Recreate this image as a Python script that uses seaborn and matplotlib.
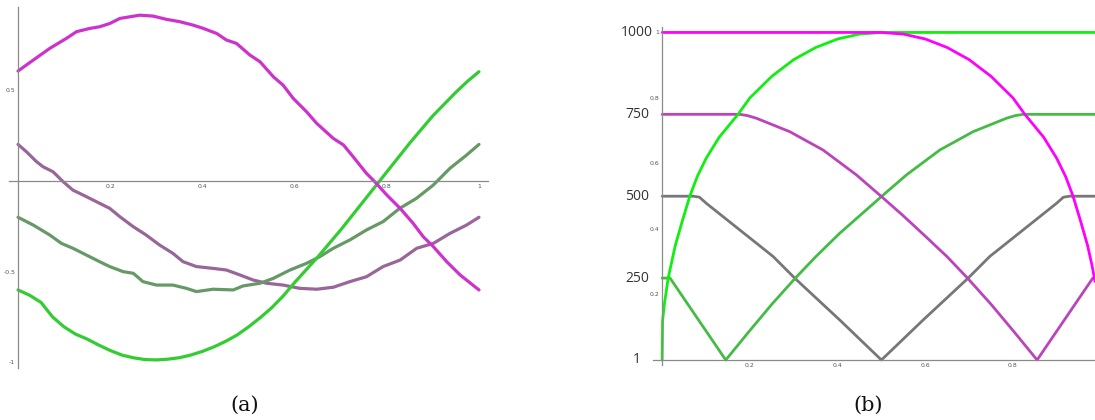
import numpy as np
import pandas as pd
import matplotlib
matplotlib.use('Agg')
import matplotlib.pyplot as plt
import matplotlib.transforms as mtransforms
import seaborn as sns

# ---- panel (a): four wobbly curves
magenta_ax = [0.0, 0.033, 0.069, 0.105, 0.127, 0.156, 0.177, 0.199, 0.221, 0.264, 0.293,
              0.322, 0.351, 0.380, 0.402, 0.431, 0.452, 0.474, 0.503, 0.525, 0.554, 0.575,
              0.597, 0.626, 0.648, 0.684, 0.706, 0.727, 0.756, 0.774, 0.800, 0.829, 0.857,
              0.879, 0.901, 0.930, 0.959, 1.0]
magenta_ay = [0.607, 0.667, 0.732, 0.787, 0.824, 0.842, 0.851, 0.869, 0.897, 0.915, 0.910,
              0.892, 0.879, 0.860, 0.842, 0.814, 0.778, 0.759, 0.695, 0.658, 0.575, 0.529,
              0.456, 0.382, 0.318, 0.235, 0.199, 0.134, 0.042, -0.004, -0.077, -0.151, -0.233,
              -0.307, -0.362, -0.445, -0.518, -0.601]
green_ax = [0.0, 0.025, 0.05, 0.075, 0.1, 0.125, 0.15, 0.175, 0.2, 0.225, 0.25, 0.275, 0.3,
            0.325, 0.35, 0.375, 0.4, 0.425, 0.45, 0.475, 0.5, 0.525, 0.55, 0.575, 0.6, 0.625,
            0.65, 0.675, 0.7, 0.725, 0.75, 0.775, 0.8, 0.825, 0.85, 0.875, 0.9, 0.925, 0.95,
            0.975, 1.0]
green_ay = [-0.601, -0.63, -0.67, -0.75, -0.805, -0.845, -0.872, -0.905, -0.935, -0.96, -0.975,
            -0.985, -0.987, -0.983, -0.975, -0.96, -0.94, -0.915, -0.885, -0.85, -0.805, -0.755,
            -0.70, -0.635, -0.56, -0.49, -0.42, -0.345, -0.27, -0.19, -0.11, -0.03, 0.05, 0.13,
            0.21, 0.285, 0.36, 0.425, 0.49, 0.55, 0.603]
purple_ax = [0.0, 0.018, 0.040, 0.054, 0.076, 0.098, 0.119, 0.148, 0.177, 0.199, 0.221, 0.250,
             0.278, 0.307, 0.336, 0.358, 0.387, 0.423, 0.452, 0.481, 0.510, 0.539, 0.575, 0.611,
             0.648, 0.684, 0.720, 0.756, 0.792, 0.829, 0.865, 0.901, 0.937, 0.973, 1.0]
purple_ay = [0.202, 0.162, 0.107, 0.079, 0.051, -0.004, -0.050, -0.086, -0.123, -0.151, -0.197,
             -0.252, -0.298, -0.353, -0.399, -0.445, -0.472, -0.482, -0.491, -0.518, -0.546,
             -0.564, -0.574, -0.592, -0.597, -0.586, -0.555, -0.528, -0.472, -0.436, -0.371,
             -0.344, -0.289, -0.243, -0.200]
dkgreen_ax = [0.0, 0.033, 0.069, 0.094, 0.119, 0.148, 0.177, 0.199, 0.228, 0.250, 0.271, 0.300,
              0.336, 0.365, 0.387, 0.423, 0.467, 0.488, 0.525, 0.554, 0.590, 0.626, 0.655, 0.684,
              0.720, 0.756, 0.792, 0.828, 0.864, 0.901, 0.937, 0.973, 1.0]
dkgreen_ay = [-0.200, -0.243, -0.298, -0.344, -0.371, -0.408, -0.445, -0.472, -0.500, -0.509,
              -0.555, -0.574, -0.574, -0.592, -0.610, -0.597, -0.601, -0.579, -0.564, -0.537,
              -0.491, -0.454, -0.417, -0.371, -0.325, -0.270, -0.224, -0.151, -0.096, -0.022,
              0.070, 0.143, 0.202]
xticks_a = [0.2, 0.4, 0.6, 0.8, 1.0]
xlabels_a = ['0.2', '0.4', '0.6', '0.8', '1']
yticks_a = [0.5, -0.5, -1.0]
ylabels_a = ['0.5', '-0.5', '-1']

# ---- panel (b): arcs and V shapes
green_bx = [0.0, 0.001, 0.005, 0.0137, 0.03, 0.045, 0.063, 0.08, 0.1, 0.13, 0.173, 0.2,
            0.25, 0.3, 0.35, 0.4, 0.45, 0.5, 0.987]
green_by = [0.0, 0.12, 0.17, 0.25, 0.35, 0.42, 0.5, 0.56, 0.615, 0.68, 0.75, 0.8,
            0.866, 0.917, 0.954, 0.98, 0.995, 1.0, 1.0]
magenta_bx = [0.0, 0.5, 0.55, 0.6, 0.65, 0.7, 0.75, 0.8, 0.827, 0.87, 0.9, 0.92, 0.937,
              0.955, 0.97, 0.98, 0.987]
magenta_by = [1.0, 1.0, 0.995, 0.98, 0.954, 0.917, 0.866, 0.8, 0.75, 0.68, 0.615, 0.56, 0.5,
              0.42, 0.35, 0.29, 0.24]
purple_bx = [0.0, 0.177, 0.195, 0.215, 0.291, 0.367, 0.443, 0.5, 0.55, 0.6, 0.65, 0.697,
             0.75, 0.8, 0.855, 0.982, 0.987]
purple_by = [0.75, 0.75, 0.746, 0.738, 0.697, 0.641, 0.565, 0.499, 0.44, 0.378, 0.315, 0.249,
             0.17, 0.09, 0.0, 0.25, 0.25]
midgreen_bx = [0.0, 0.018, 0.145, 0.2, 0.25, 0.303, 0.35, 0.405, 0.45, 0.5, 0.557, 0.633,
               0.709, 0.785, 0.805, 0.823, 0.987]
midgreen_by = [0.25, 0.25, 0.0, 0.09, 0.17, 0.249, 0.315, 0.387, 0.44, 0.499, 0.565, 0.641,
               0.697, 0.738, 0.746, 0.75, 0.75]
gray_bx = [0.0, 0.071, 0.085, 0.101, 0.177, 0.253, 0.303, 0.405, 0.5, 0.595, 0.697,
           0.747, 0.823, 0.899, 0.915, 0.929, 0.987]
gray_by = [0.5, 0.5, 0.497, 0.478, 0.397, 0.316, 0.249, 0.122, 0.0, 0.122, 0.249,
           0.316, 0.397, 0.478, 0.497, 0.5, 0.5]
xticks_b = [0.2, 0.4, 0.6, 0.8]
xlabels_b = ['0.2', '0.4', '0.6', '0.8']
yticks_b = [0.2, 0.4, 0.6, 0.8, 1.0]
ylabels_b = ['0.2', '0.4', '0.6', '0.8', '1']
big_levels = [0.0, 0.25, 0.5, 0.75, 1.0]
big_labels = ['1', '250', '500', '750', '1000']

sns.set_style('white')
plt.rcParams['font.family'] = ['DejaVu Sans']
plt.rcParams['axes.unicode_minus'] = False

fig = plt.figure(figsize=(10.95, 4.2), dpi=100)
ax1 = fig.add_axes([0.00804, 0.1245, 0.4378, 0.8588])
ax2 = fig.add_axes([0.5963, 0.1312, 0.4037, 0.8048])

axis_col = '#8a8a8a'
tick_col = '#555555'


def style_axes(ax):
    for s in ['top', 'right']:
        ax.spines[s].set_visible(False)
    ax.spines['left'].set_position(('data', 0))
    ax.spines['bottom'].set_position(('data', 0))
    for s in ['left', 'bottom']:
        ax.spines[s].set_color(axis_col)
        ax.spines[s].set_linewidth(0.9)
    ax.tick_params(which='both', colors=axis_col, labelcolor=tick_col, labelsize=4.4,
                   direction='in', pad=2)
    ax.tick_params(which='major', length=2.5, width=0.6)
    ax.tick_params(which='minor', length=1.5, width=0.5)
    ax.set_xlabel('')
    ax.set_ylabel('')
    ax.patch.set_alpha(0)


# panel (a)
for xs, ys, col in [(purple_ax, purple_ay, '#996699'), (dkgreen_ax, dkgreen_ay, '#669966'),
                    (green_ax, green_ay, '#33cc33'), (magenta_ax, magenta_ay, '#cc33cc')]:
    sns.lineplot(x=xs, y=ys, ax=ax1, color=col, linewidth=2.3, estimator=None)
ax1.set_xlim(-0.02, 1.02)
ax1.set_ylim(-1.03, 0.96)
style_axes(ax1)
ax1.set_xticks(xticks_a, xlabels_a)
ax1.set_yticks(yticks_a, ylabels_a)
ax1.set_xticks(np.arange(0.05, 1.0, 0.05), minor=True)
ax1.set_yticks(np.arange(-1.0, 0.95, 0.1), minor=True)

# panel (b)
for xs, ys, col in [(gray_bx, gray_by, '#777777'), (midgreen_bx, midgreen_by, '#44bb44'),
                    (purple_bx, purple_by, '#bb44bb'), (green_bx, green_by, '#11ee11'),
                    (magenta_bx, magenta_by, '#ff00ff')]:
    sns.lineplot(x=xs, y=ys, ax=ax2, color=col, linewidth=2.0, estimator=None)
ax2.set_xlim(-0.021, 0.987)
ax2.set_ylim(-0.015, 1.017)
style_axes(ax2)
ax2.set_xticks(xticks_b, xlabels_b)
ax2.set_yticks(yticks_b, ylabels_b)
ax2.set_xticks(np.arange(0.05, 0.98, 0.05), minor=True)
ax2.set_yticks(np.arange(0.05, 1.0, 0.05), minor=True)
tr = mtransforms.blended_transform_factory(ax2.transAxes, ax2.transData)
for lev, lab in zip(big_levels, big_labels):
    ax2.text(-0.036, lev, lab, transform=tr, ha='center', va='center',
             fontsize=10, color='#333333', family=['Open Sans', 'DejaVu Sans'])

# captions
fig.text(245 / 1095, 1 - 405 / 420, '(a)', ha='center', va='center', fontsize=15,
         family=['DejaVu Serif'], color='#111111')
fig.text(868 / 1095, 1 - 405 / 420, '(b)', ha='center', va='center', fontsize=15,
         family=['DejaVu Serif'], color='#111111')

fig.savefig('out.png', dpi=100)
